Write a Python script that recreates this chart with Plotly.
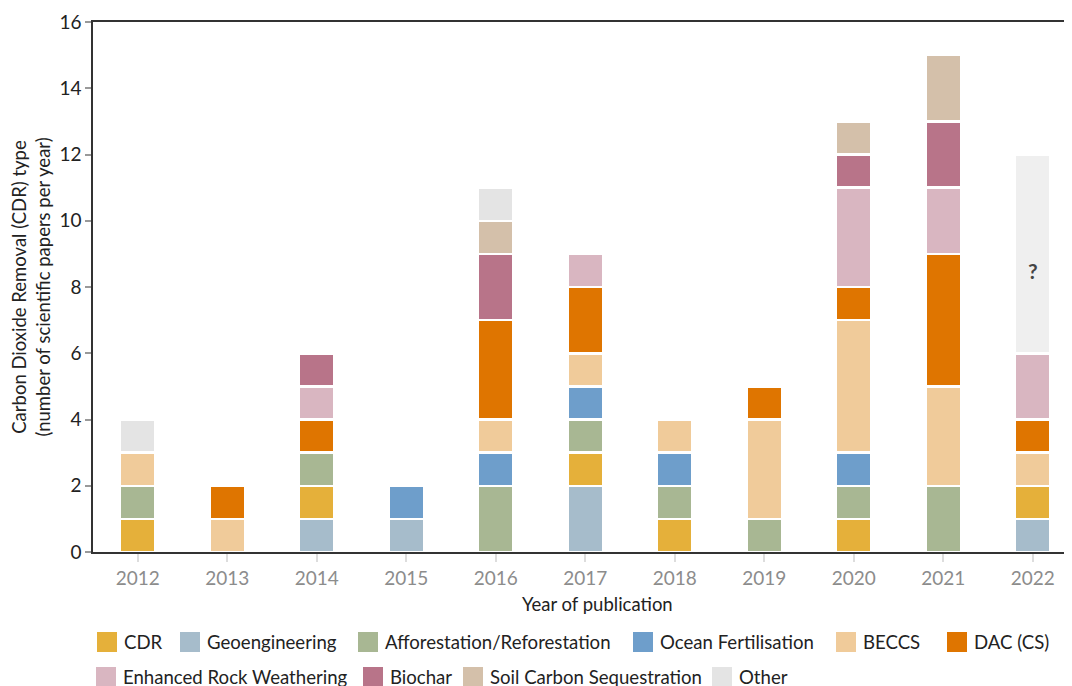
import plotly.graph_objects as go

years = [2012, 2013, 2014, 2015, 2016, 2017, 2018, 2019, 2020, 2021, 2022]

# stacking order (bottom to top)
geoengineering = [0, 0, 1, 1, 0, 2, 0, 0, 0, 0, 1]
cdr            = [1, 0, 1, 0, 0, 1, 1, 0, 1, 0, 1]
afforestation  = [1, 0, 1, 0, 2, 1, 1, 1, 1, 2, 0]
ocean_fert     = [0, 0, 0, 1, 1, 1, 1, 0, 1, 0, 0]
beccs          = [1, 1, 0, 0, 1, 1, 1, 3, 4, 3, 1]
dac            = [0, 1, 1, 0, 3, 2, 0, 1, 1, 4, 1]
erw            = [0, 0, 1, 0, 0, 1, 0, 0, 3, 2, 2]
biochar        = [0, 0, 1, 0, 2, 0, 0, 0, 1, 2, 0]
soil_carbon    = [0, 0, 0, 0, 1, 0, 0, 0, 1, 2, 0]
other          = [1, 0, 0, 0, 1, 0, 0, 0, 0, 0, 0]
unknown_2022   = [0, 0, 0, 0, 0, 0, 0, 0, 0, 0, 6]

series = [
    ("Geoengineering", geoengineering, "#a6bccb"),
    ("CDR", cdr, "#e5b03a"),
    ("Afforestation/Reforestation", afforestation, "#a8b793"),
    ("Ocean Fertilisation", ocean_fert, "#6e9ecb"),
    ("BECCS", beccs, "#f0cb9a"),
    ("DAC (CS)", dac, "#df7500"),
    ("Enhanced Rock Weathering", erw, "#d9b6c1"),
    ("Biochar", biochar, "#b87489"),
    ("Soil Carbon Sequestration", soil_carbon, "#d4c0aa"),
    ("Other", other, "#e4e4e4"),
    ("Unknown", unknown_2022, "#efefef"),
]
colors = {name: c for name, _, c in series}

legend_rows = [
    ["CDR", "Geoengineering", "Afforestation/Reforestation", "Ocean Fertilisation", "BECCS", "DAC (CS)"],
    ["Enhanced Rock Weathering", "Biochar", "Soil Carbon Sequestration", "Other"],
]
# screen positions (page has an 8px body margin)
legend_x_px = [[97, 180, 358, 633, 836, 947], [96, 363, 463, 712]]
legend_y_px = [642, 677]

FONT = "Lato, 'Open Sans', sans-serif"
OFF = 8
W, H = 1072, 686
ML, MR, MT, MB = 85, 0, 14, 142
PW, PH = W - ML - MR, H - MT - MB


def px_to_paper_x(sx):
    return (sx - OFF - ML) / PW


def px_to_paper_y(sy):
    return (MT + PH - (sy - OFF)) / PH


fig = go.Figure()
for name, vals, col in series:
    fig.add_trace(go.Bar(
        x=years, y=[v if v else None for v in vals], name=name,
        marker=dict(color=col, line=dict(color="white", width=2.5)),
        width=0.4, showlegend=False,
    ))

fig.add_annotation(x=2022, y=8.5, text="<b>?</b>", showarrow=False,
                   font=dict(family=FONT, size=21, color="#444"))

shapes = []
for row, xs, py in zip(legend_rows, legend_x_px, legend_y_px):
    for name, px in zip(row, xs):
        shapes.append(dict(type="rect", xref="paper", yref="paper",
                           x0=px_to_paper_x(px), x1=px_to_paper_x(px + 20),
                           y0=px_to_paper_y(py + 10), y1=px_to_paper_y(py - 10),
                           fillcolor=colors[name], line=dict(width=0)))
        fig.add_annotation(xref="paper", yref="paper",
                           x=px_to_paper_x(px + 25), y=px_to_paper_y(py),
                           text=name, showarrow=False, xanchor="left", yanchor="middle",
                           font=dict(family=FONT, size=18.6, color="#222"))

fig.add_annotation(xref="paper", yref="paper", x=px_to_paper_x(597), y=px_to_paper_y(604),
                   text="Year of publication", showarrow=False, xanchor="center", yanchor="middle",
                   font=dict(family=FONT, size=18.5, color="#222"))

fig.update_layout(
    width=W, height=H, barmode="stack",
    margin=dict(l=ML, r=MR, t=MT, b=MB),
    plot_bgcolor="white", paper_bgcolor="white",
    font=dict(family=FONT, size=18, color="#222"),
    shapes=shapes,
    xaxis=dict(range=[2011.5, 2011.5 + PW / 89.5], tickvals=years, ticktext=[str(y) for y in years],
               showline=True, linecolor="#333", linewidth=1.5, mirror=True,
               ticks="outside", ticklen=8, tickwidth=2, tickcolor="#dddddd",
               tickfont=dict(family=FONT, size=19, color="#8c8c8c"),
               showgrid=False, zeroline=False),
    yaxis=dict(range=[0, 16], dtick=2, showline=True, linecolor="#333", linewidth=1.5,
               ticks="outside", ticklen=6, tickwidth=1.5, tickcolor="#999",
               tickfont=dict(family=FONT, size=19, color="#222"),
               showgrid=False, zeroline=False,
               title=dict(text="Carbon Dioxide Removal (CDR) type<br>(number of scientific papers per year)",
                          font=dict(family=FONT, size=18.5, color="#222"), standoff=10)),
)

fig.write_html("out.html")
